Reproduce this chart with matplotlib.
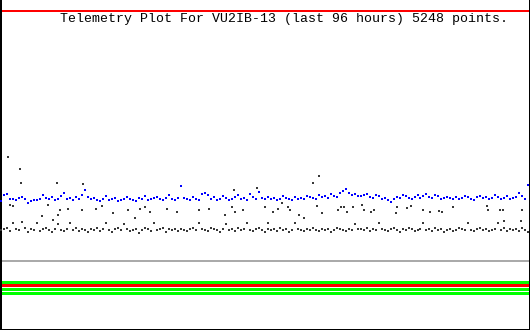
import numpy as np
import matplotlib
matplotlib.use("Agg")
import matplotlib.pyplot as plt

TITLE = "Telemetry Plot For VU2IB-13 (last 96 hours) 5248 points."
HOURS = 96

# channel 1 (blue) values
blue_vals = [
    129,135,136,131,131,130,132,133,131,127,129,130,130,131,135,132,131,133,130,131,134,137,131,132,130,133,131,135,140,133,
    131,132,130,129,131,134,130,131,132,129,130,131,133,131,130,129,132,131,134,130,131,132,133,131,130,132,135,131,130,132,
    144,132,131,130,133,131,130,136,137,135,131,133,130,131,134,132,130,131,133,135,131,132,130,136,133,131,138,132,131,133,
    131,132,130,131,134,132,131,130,133,131,132,131,134,133,132,131,135,133,134,132,136,134,133,137,139,141,137,135,136,134,
    134,135,136,133,132,135,134,131,132,130,128,131,133,132,135,134,132,131,133,135,132,134,136,133,132,135,134,131,132,133,
    132,131,133,131,132,134,133,131,130,133,134,132,133,131,132,135,133,131,132,134,131,132,133,137,134,131,145,
]

# channel 2 (dark grey) values
grey_vals = [
    100,101,102,99,107,101,100,108,102,98,101,100,107,99,101,102,100,98,101,106,100,99,101,107,100,102,99,101,100,98,
    101,100,102,99,101,107,100,98,101,102,100,106,101,99,100,101,97,100,102,101,99,107,100,101,102,98,101,100,101,99,
    101,100,99,101,102,100,107,101,100,99,102,101,100,98,101,106,100,101,99,102,100,101,107,100,99,101,102,100,98,101,
    100,101,99,102,100,101,98,100,107,101,100,99,101,100,102,100,99,101,100,101,98,100,102,101,100,99,101,100,106,101,
    101,100,102,99,101,100,107,101,100,99,101,102,100,98,101,100,102,101,99,100,101,107,100,101,99,102,100,101,98,100,
    101,99,100,102,101,100,107,100,99,101,102,100,101,99,100,101,107,100,102,99,101,100,101,99,102,100,98,
]

# channel 2 excursions (hour, value)
grey_out_hours = [1.4,3.6,3.8,10.3,15.0,1.8,2.4,7.6,8.7,10.9,12.3,14.9,10.5,9.6,
                  17.4,18.5,20.5,23.2,24.5,25.4,26.3,27.2,30.2,32.1,
                  36.0,37.9,40.8,42.0,42.6,44.0,46.6,48.0,42.4,
                  48.5,49.4,50.4,51.1,52.2,52.5,54.2,55.1,56.7,57.8,57.4,58.3,61.2,61.8,62.3,62.9,
                  63.9,65.6,65.9,67.2,67.7,71.9,71.7,73.7,74.4,76.6,77.9,79.5,
                  80.1,82.1,88.2,88.4,90.6,91.1,91.3,94.6,94.4]
grey_out_vals = [173,161,147,147,146,125,124,114,125,120,121,120,115,110,
                 121,124,117,120,112,121,123,118,121,118,
                 120,121,115,123,118,120,142,123,140,
                 107,118,121,127,123,120,115,112,147,154,124,117,120,123,123,118,
                 123,125,120,118,120,123,117,122,124,120,118,119,
                 118,123,124,120,120,120,109,120,109]

# constant channels: (level, colour, width px)
level_vals = [319, 69, 48.5, 44.8, 40.7, 36.8]
level_cols = ["#ff0000", "#aaaaaa", "#00ff00", "#ff0000", "#00ff00", "#00ff00"]
level_w = [2, 2, 3, 3, 3, 3]

W, H, DPI = 530, 330, 100
fig = plt.figure(figsize=(W / DPI, H / DPI), dpi=DPI)
ax = fig.add_axes([0, 0, 1, 1])
ax.set_xlim(0, HOURS)
ax.set_ylim(0, H)
ax.set_xticks([])
ax.set_yticks([])
px = 72.0 / DPI

for lv, c, w in zip(level_vals, level_cols, level_w):
    ax.axhline(lv, color=c, lw=w * px, antialiased=False, zorder=1)

t_blue = np.linspace(0.2, HOURS - 0.3, len(blue_vals))
t_grey = np.linspace(0.2, HOURS - 0.3, len(grey_vals))

mk = dict(ls="none", marker="s", ms=2 * px, mew=0, antialiased=False, zorder=3)
ax.plot(t_blue, blue_vals, color="#0000ff", **mk)
ax.plot(t_grey, grey_vals, color="#383838", **mk)
ax.plot(grey_out_hours, grey_out_vals, color="#383838", **mk)

ax.text(60 / W * HOURS, H - 22, TITLE, family="Liberation Mono", fontsize=9.5,
        color="black", va="baseline", ha="left")

for s in ["left", "right", "bottom"]:
    ax.spines[s].set_color("black")
ax.spines["left"].set_linewidth(4 * px)
ax.spines["right"].set_linewidth(2 * px)
ax.spines["bottom"].set_linewidth(2 * px)
ax.spines["top"].set_visible(False)

fig.savefig("out.png", dpi=DPI, facecolor="white")
